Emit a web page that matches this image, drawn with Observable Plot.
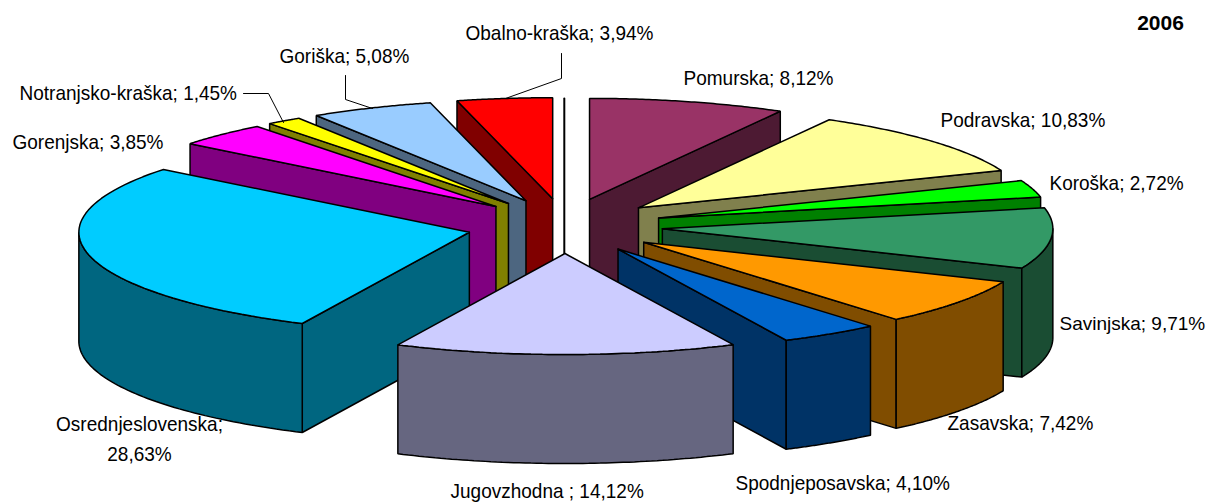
<!DOCTYPE html>
<html>
<head>
<meta charset="utf-8">
<script src="https://cdn.jsdelivr.net/npm/d3@7"></script>
<script src="https://cdn.jsdelivr.net/npm/@observablehq/plot@0.6"></script>
<style>
html,body{margin:0;padding:0;background:#fff}
svg{display:block}
</style>
</head>
<body>
<div id="chart"></div>
<script>
// Data
const regions = ["Pomurska","Podravska","Koroška","Savinjska","Zasavska","Spodnjeposavska","Jugovzhodna ","Osrednjeslovenska","Gorenjska","Notranjsko-kraška","Goriška","Obalno-kraška"];
const shares = [8.12,10.83,2.72,9.71,7.42,4.10,14.12,28.63,3.85,1.45,5.08,3.94];
const sharesText = ["8,12%","10,83%","2,72%","9,71%","7,42%","4,10%","14,12%","28,63%","3,85%","1,45%","5,08%","3,94%"];
const topColors = ["#993366","#FFFF99","#00FF00","#339966","#FF9900","#0066CC","#CCCCFF","#00CCFF","#FF00FF","#FFFF00","#99CCFF","#FF0000"];
const year = "2006";

// Layout of the projected pie (pixel units of the x and y scales)
const W = 1208, H = 503;
const pie = {cx:564.3, cy:225.5, rx:390.5, ry:101, ex:98, ey:27.5, depth:109};
const labelPos = [[683,78],[940,120],[1049,183],[1059,323],[947,423],[735,483],[450,491],[57,424],[12,142],[19,93],[279,56],[465,33]];
const wrappedCentreX = 139, wrappedCentreY = 436;
const labelSizes = [21,21,21,19,21,21,21,21,21,21,21,21];
const leaders = [
  {from:[561,53], via:[561,78], to:[505,98]},
  {from:[345,75], via:[345,99], to:[372,108]},
  {from:[243,93], via:[268,93], to:[283,122]}
];
const naturalSize = 19;   // labels are drawn taller, then condensed to this size's width

const rad = d => d * Math.PI / 180;
const total = d3.sum(shares);
let cum = 0;
const slices = regions.map((name,i) => {
  const a0 = cum / total * 360; cum += shares[i];
  const a1 = cum / total * 360;
  const mid = (a0 + a1) / 2;
  const ax = pie.cx + pie.ex * Math.sin(rad(mid));
  const ay = pie.cy - pie.ey * Math.cos(rad(mid));
  const c = d3.rgb(topColors[i]);
  const wall = d3.rgb(c.r/2, c.g/2, c.b/2).formatHex();
  return {name, a0, a1, mid, ax, ay, top:topColors[i], wall};
});
const onRim = (s,a) => ({x:s.ax + pie.rx*Math.sin(rad(a)), y:s.ay - pie.ry*Math.cos(rad(a))});
const arc = (s,a,b) => d3.range(0,61).map(k => onRim(s, a + (b-a)*k/60));
const close = p => [...p, p[0]];
const drop = p => p.map(q => ({x:q.x, y:q.y + pie.depth}));

const polygon = (pts, fill, sw=1.5) => Plot.line(close(pts), {x:"x", y:"y", fill, stroke:"#000", strokeWidth:sw, strokeLinejoin:"miter"});

// back-to-front
const order = [...slices].sort((p,q) => Math.abs(q.mid-180) - Math.abs(p.mid-180));
const marks = [];
// the thin vertical line in the central gap
marks.push(Plot.line([{x:pie.cx-0.5, y:pie.cy-pie.ey-pie.ry+1},{x:pie.cx-0.5, y:pie.cy+pie.ey}], {x:"x", y:"y", stroke:"#000", strokeWidth:2}));
for (const s of order) {
  const apex = {x:s.ax, y:s.ay};
  const wallFace = a => {
    const top = [apex, onRim(s,a)];
    return polygon([...top, ...drop(top).reverse()], s.wall);
  };
  // cut faces
  if (Math.sin(rad(s.a0)) < 0) marks.push(wallFace(s.a0));
  if (Math.sin(rad(s.a1)) > 0) marks.push(wallFace(s.a1));
  // outer rim, front half only
  const lo = Math.max(s.a0, 90), hi = Math.min(s.a1, 270);
  if (lo < hi) {
    const r = arc(s, lo, hi);
    marks.push(polygon([...r, ...drop(r).reverse()], s.wall));
  }
  // top face
  marks.push(polygon([apex, ...arc(s, s.a0, s.a1)], s.top));
}
// leaders
for (const l of leaders) {
  marks.push(Plot.line([l.from,l.via,l.to], {x:d=>d[0], y:d=>d[1], stroke:"#000", strokeWidth:1}));
}
// labels
const font = {fontFamily:"'Liberation Sans', Arial, sans-serif", fill:"#000"};
const labelRows = regions.map((name,i) => ({
  text: name + "; " + sharesText[i],
  wrappedText: name + ";\n" + sharesText[i],
  x: labelPos[i][0], y: labelPos[i][1], size: labelSizes[i],
  wrapped: name === "Osrednjeslovenska"
}));
marks.push(Plot.text(labelRows.filter(d=>!d.wrapped), {x:"x", y:"y", text:"text", textAnchor:"start", fontSize:"size", ...font}));
marks.push(Plot.text(labelRows.filter(d=>d.wrapped), {x:()=>wrappedCentreX, y:()=>wrappedCentreY, text:"wrappedText", textAnchor:"middle", lineHeight:30/21, fontSize:21, ...font}));
marks.push(Plot.text([year], {x:[1160], y:[23], text:d=>d, fontSize:21, fontWeight:"bold", ...font}));

const chart = Plot.plot({
  width:W, height:H, margin:0,
  x:{domain:[0,W], range:[0,W], axis:null},
  y:{domain:[0,H], range:[0,H], axis:null},
  style:{background:"#fff"},
  marks
});
document.getElementById("chart").appendChild(chart);

// The reference's labels are tall and slightly condensed: fit each line to its natural width times the squeeze.
chart.querySelectorAll('g[aria-label="text"] text').forEach(t => {
  if (t.textContent === year) return;
  const size = parseFloat(getComputedStyle(t).fontSize);
  if (size <= naturalSize) return;
  const lines = t.querySelectorAll("tspan");
  (lines.length ? lines : [t]).forEach(el => {
    el.setAttribute("textLength", (el.getComputedTextLength() * naturalSize / size).toFixed(1));
    el.setAttribute("lengthAdjust", "spacingAndGlyphs");
  });
});
</script>
</body>
</html>
